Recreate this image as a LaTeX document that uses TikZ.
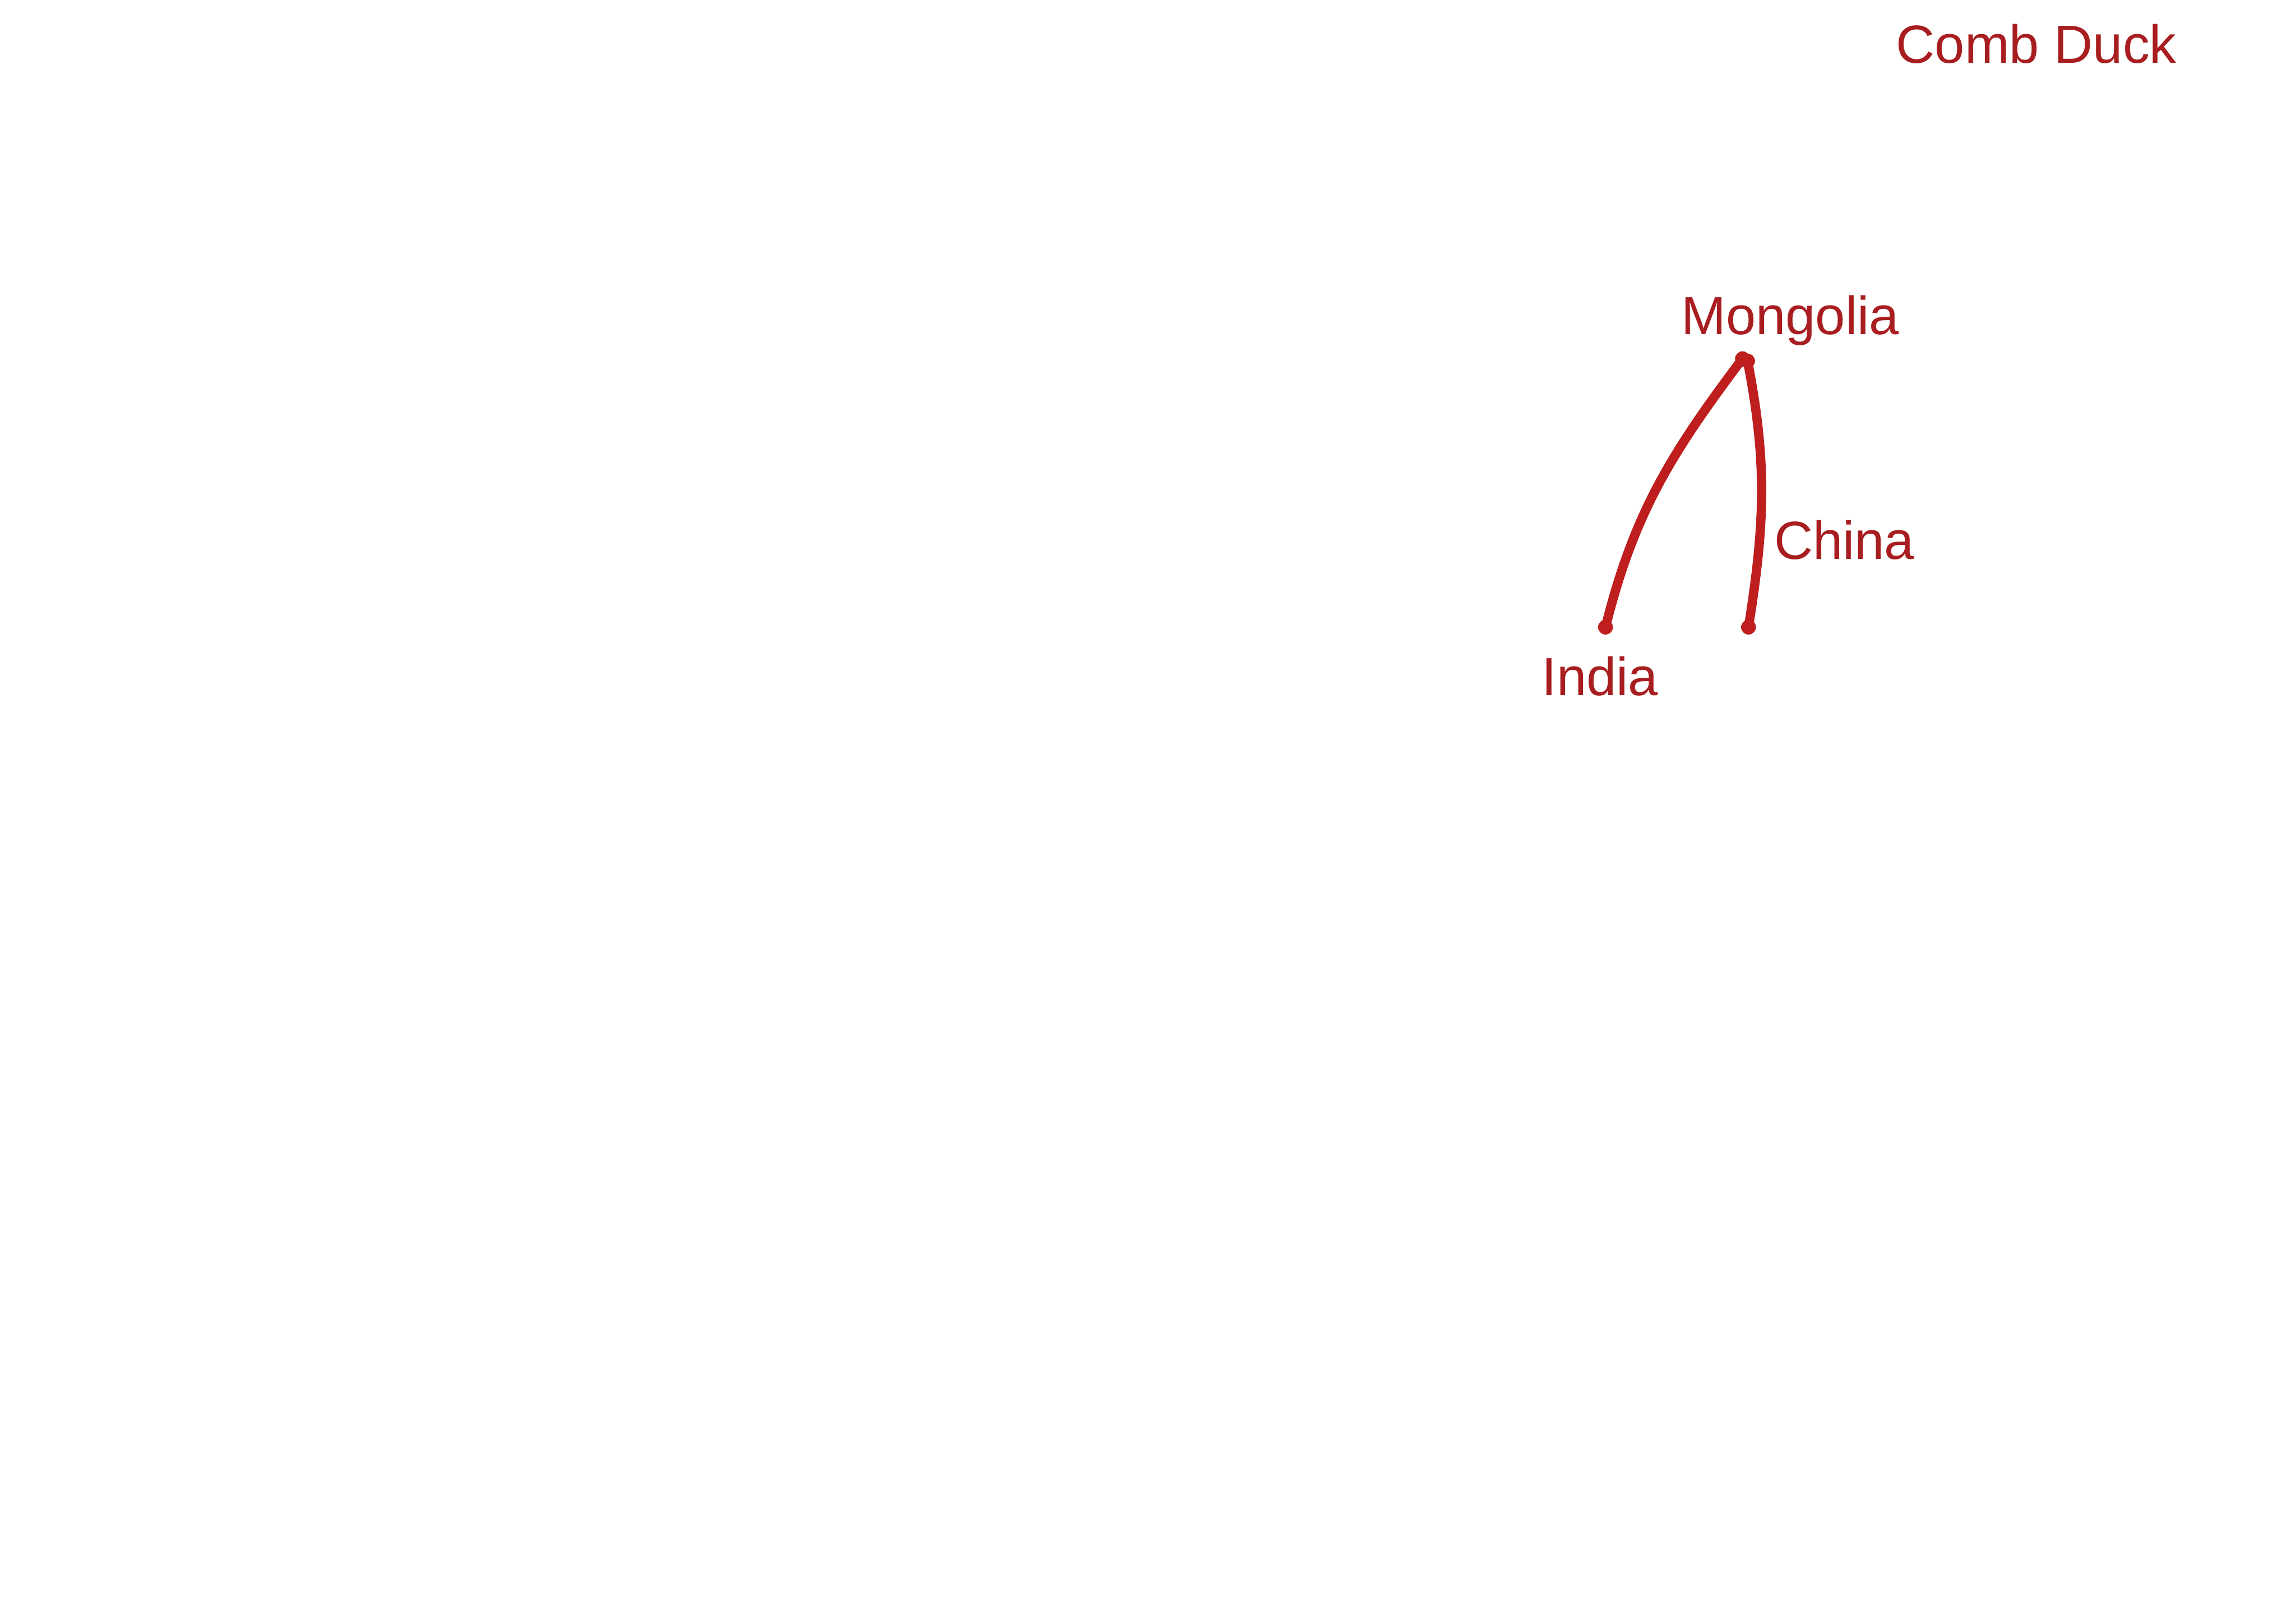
\documentclass[tikz,border=0pt]{standalone}
\usepackage{fontspec}
\setmainfont{Liberation Sans}
\definecolor{labelred}{RGB}{168,29,31}
\definecolor{routered}{RGB}{190,30,30}
\newcommand{\stopdot}[1]{\fill[routered] (#1) circle (0.16);}

\begin{document}
\begin{tikzpicture}
  [place/.style={text=labelred, font=\fontsize{33}{40}\selectfont, inner sep=0pt, anchor=base},
   route/.style={draw=routered, line width=2mm},
  ]
  \useasboundingbox (0,0) rectangle (49.61,-35.08);
  % stops
  \coordinate (mongoliaA) at (37.65,-7.75);
  \coordinate (mongoliaB) at (37.76,-7.80);
  \coordinate (india) at (34.69,-13.55);
  \coordinate (china) at (37.78,-13.55);
  % routes
  \draw[route] (india) to[out=76,in=233] (mongoliaA);
  \draw[route] (china) to[out=81,in=-79] (mongoliaB);
  \stopdot{mongoliaA} \stopdot{mongoliaB}
  \stopdot{india} \stopdot{china}
  % labels
  \node[place] (title) at (44.00,-1.36) {Comb Duck};
  \node[place] (mongolia label) at (38.68,-7.23) {Mongolia};
  \node[place] (china label) at (39.85,-12.08) {China};
  \node[place] (india label) at (34.57,-15.02) {India};
\end{tikzpicture}
\end{document}
